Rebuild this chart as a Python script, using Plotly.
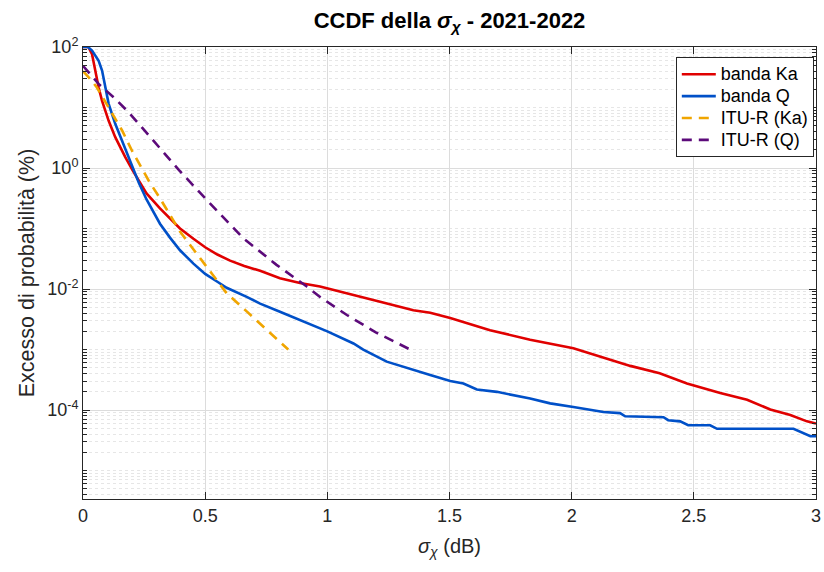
import plotly.graph_objects as go

# ---------------- data ----------------
ka_x = [0, 0.022, 0.037, 0.05, 0.064, 0.078, 0.105, 0.132, 0.173, 0.205, 0.26, 0.315,
        0.397, 0.452, 0.5, 0.55, 0.602, 0.66, 0.725, 0.806, 0.888, 0.97, 1.0, 1.107,
        1.216, 1.352, 1.421, 1.503, 1.666, 1.83, 2.007, 2.143, 2.24, 2.36, 2.472, 2.608,
        2.718, 2.813, 2.895, 2.963, 3.0]
ka_y = [100, 100, 75.9, 40.7, 21.4, 12.9, 6.03, 3.24, 1.51, 0.891, 0.380, 0.215,
        0.100, 0.0676, 0.0490, 0.0372, 0.0295, 0.0240, 0.0200, 0.0151, 0.0126, 0.0110,
        0.0102, 0.00794, 0.00617, 0.00447, 0.00407, 0.00331, 0.00209, 0.00145, 0.00105,
        0.000708, 0.000537, 0.000407, 0.000275, 0.000191, 0.000148, 0.000102, 8.3e-5,
        6.5e-5, 6.0e-5]

q_x = [0, 0.02, 0.037, 0.064, 0.078, 0.091, 0.105, 0.132, 0.16, 0.187, 0.214, 0.228,
       0.26, 0.29, 0.315, 0.356, 0.397, 0.452, 0.5, 0.55, 0.588, 0.67, 0.725, 0.806,
       0.943, 1.0, 1.107, 1.147, 1.243, 1.352, 1.421, 1.503, 1.557, 1.612, 1.694, 1.83,
       1.912, 2.007, 2.13, 2.198, 2.219, 2.376, 2.395, 2.444, 2.477, 2.567, 2.595, 2.908,
       2.949, 2.977, 3.0]
q_y = [100, 100, 87.1, 58.9, 40.7, 21.4, 11.5, 5.37, 2.82, 1.51, 0.794, 0.575,
       0.302, 0.178, 0.120, 0.0708, 0.0437, 0.0263, 0.0178, 0.0132, 0.0105, 0.00741,
       0.00575, 0.00422, 0.00251, 0.00200, 0.00126, 0.00100, 0.000631, 0.000457,
       0.000380, 0.000302, 0.000275, 0.000219, 0.000200, 0.000155, 0.000129, 0.000112,
       9.3e-5, 8.9e-5, 7.9e-5, 7.6e-5, 6.8e-5, 6.5e-5, 5.6e-5, 5.6e-5, 4.9e-5, 4.9e-5,
       4.1e-5, 3.7e-5, 3.7e-5]

itu_ka_x = [0, 0.03, 0.057, 0.119, 0.16, 0.2, 0.269, 0.315, 0.397, 0.5, 0.588, 0.67, 0.725, 0.84]
itu_ka_y = [39.8, 29.5, 21.4, 7.76, 4.17, 1.95, 0.617, 0.316, 0.0891, 0.0251, 0.00851,
            0.00427, 0.00269, 0.001]

itu_q_x = [0, 0.064, 0.125, 0.187, 0.241, 0.289, 0.344, 0.392, 0.5, 0.656, 0.792, 0.916,
           0.97, 1.08, 1.2, 1.339]
itu_q_y = [49.0, 24.5, 14.8, 8.32, 4.68, 2.82, 1.58, 0.933, 0.316, 0.0692, 0.0251, 0.0110,
           0.00741, 0.00372, 0.00191, 0.001]

names = ["banda Ka", "banda Q", "ITU-R (Ka)", "ITU-R (Q)"]
y_tickvals = [1e-4, 1e-2, 1, 1e2]
y_ticktext = ["10<sup>-4</sup>", "10<sup>-2</sup>", "10<sup>0</sup>", "10<sup>2</sup>"]
x_tickvals = [0, 0.5, 1, 1.5, 2, 2.5, 3]
x_ticktext = ["0", "0.5", "1", "1.5", "2", "2.5", "3"]

# ---------------- figure ----------------
FONT = "Arial, Liberation Sans, sans-serif"
AXC = "#262626"


def leg(name):
    # larger legend text while keeping compact rows
    return '<span style="font-size:18px">' + name + '</span>'


fig = go.Figure()
fig.add_trace(go.Scatter(x=ka_x, y=ka_y, mode="lines", name=leg(names[0]),
                         line=dict(color="#E00000", width=2.6)))
fig.add_trace(go.Scatter(x=q_x, y=q_y, mode="lines", name=leg(names[1]),
                         line=dict(color="#0050C8", width=2.6)))
fig.add_trace(go.Scatter(x=itu_ka_x, y=itu_ka_y, mode="lines", name=leg(names[2]),
                         line=dict(color="#F0A500", width=2.6, dash="10px,7px")))
fig.add_trace(go.Scatter(x=itu_q_x, y=itu_q_y, mode="lines", name=leg(names[3]),
                         line=dict(color="#5C0A7A", width=2.6, dash="10px,7px")))

minor_vals = [k * 10.0 ** e for e in range(-6, 3) for k in range(1, 10)
              if not (k == 1 and e in (-4, -2, 0, 2))]

fig.update_layout(
    width=824, height=572,
    margin=dict(l=83, r=8, t=47, b=73),
    plot_bgcolor="white", paper_bgcolor="white",
    font=dict(family=FONT, color=AXC, size=18),
    title=dict(text="<b>CCDF della <i>σ</i><sub><i>χ</i></sub> - 2021-2022</b>",
               x=0.5, xref="paper", xanchor="center",
               y=1 - 20 / 572, yref="container", yanchor="middle",
               font=dict(size=22, color="black", family=FONT)),
    showlegend=True,
    legend=dict(x=0.997, xanchor="right", y=0.977, yanchor="top",
                bgcolor="white", bordercolor=AXC, borderwidth=1,
                font=dict(size=14.5, color="black", family=FONT),
                tracegroupgap=0, itemwidth=34),
)

fig.update_xaxes(
    range=[0, 3], tickmode="array", tickvals=x_tickvals, ticktext=x_ticktext,
    automargin=False,
    ticks="inside", ticklen=7, tickcolor=AXC, mirror="ticks",
    showline=True, linecolor=AXC, linewidth=1,
    showgrid=True, gridcolor="#DCDCDC", gridwidth=1, zeroline=False,
    tickfont=dict(size=18, color=AXC),
    title=dict(text="<i>σ</i><sub><i>χ</i></sub> (dB)", font=dict(size=20, color=AXC),
               standoff=14),
)
fig.update_yaxes(
    type="log", range=[-5.47, 2.0], tickmode="array",
    tickvals=y_tickvals, ticktext=y_ticktext, automargin=False,
    ticks="inside", ticklen=7, tickcolor=AXC, mirror="ticks",
    showline=True, linecolor=AXC, linewidth=1,
    showgrid=True, gridcolor="#DCDCDC", gridwidth=1, zeroline=False,
    tickfont=dict(size=18, color=AXC),
    minor=dict(tickmode="array", tickvals=minor_vals, ticks="inside", ticklen=4,
               tickcolor=AXC, showgrid=True, gridcolor="#E6E6E6", griddash="dot",
               gridwidth=1),
    title=dict(text="Excesso di probabilità (%)", font=dict(size=21.5, color=AXC),
               standoff=6),
)

fig.write_html("out.html")
